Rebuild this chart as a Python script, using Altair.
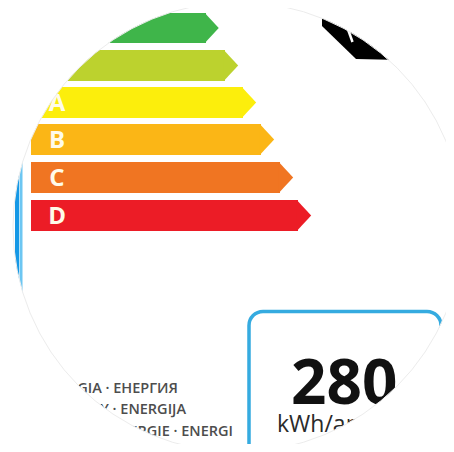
import altair as alt
import pandas as pd

# ---- data (image pixel coordinates) ----
classes = ["A++", "A+", "A", "B", "C", "D"]
bar_top = [13, 50, 87, 124, 162, 200]
bar_bottom = [43, 81, 118, 155, 193, 231]
bar_end = [206, 225, 243, 261, 280, 298]
bar_colors = ["#3fb54a", "#bcd22e", "#fcee0c", "#fbb616", "#f07522", "#ec1c26"]
bar_start = 31

footer_lines = ["ΕΝΕΡΓΕΙΑ · ENERGIA · ЕНЕРГИЯ", "ENERGY · ENERGIJA", "ENERGIA · ENERGIE · ENERGI"]
footer_right = [178, 186, 233]
footer_y = [389, 410, 432]

value_text = ["280"]
unit_text = ["kWh/annum"]

black_x = [322, 356, 400]
black_y = [26, 59, 60]

circle_cx, circle_cy, circle_r = 238, 227, 225
mask_width = 420

W, H = 438, 436
xs = alt.Scale(domain=[8, 446], nice=False, zero=False)
ys = alt.Scale(domain=[8, 444], reverse=True, nice=False, zero=False)


def X(f):
    return alt.X(f, type="quantitative", scale=xs, axis=None)


def Y(f):
    return alt.Y(f, type="quantitative", scale=ys, axis=None)


bars = pd.DataFrame({
    "cls": classes, "x0": [bar_start] * len(classes), "x1": bar_end,
    "y0": bar_top, "y1": bar_bottom,
})
bars["yc"] = (bars["y0"] + bars["y1"]) / 2
bars["size"] = (bars["y1"] - bars["y0"]) ** 2

col = alt.Color("cls:N", scale=alt.Scale(domain=classes, range=bar_colors), legend=None)

body = alt.Chart(bars).mark_rect().encode(
    x=X("x0"), x2="x1", y=Y("y0"), y2="y1", color=col)

tip = alt.Chart(bars).mark_point(
    shape="M-0.08,-1 L0.85,0 L-0.08,1 Z", filled=True, opacity=1, strokeWidth=0
).encode(x=X("x1"), y=Y("yc"), color=col, size=alt.Size("size:Q", scale=None, legend=None))

letters = alt.Chart(bars).mark_text(
    font="Open Sans", fontWeight="bold", fontSize=24, color="#fffbea",
    align="center", baseline="middle", dy=1
).encode(x=alt.X("lx:Q", scale=xs, axis=None), y=Y("yc"), text="cls:N").transform_calculate(lx="57")

blue_dark = alt.Chart(pd.DataFrame({"x": [17], "y": [100], "y2": [360]})).mark_rule(
    color="#1598e6", strokeWidth=4).encode(x=X("x"), y=Y("y"), y2="y2")
blue_light = alt.Chart(pd.DataFrame({"x": [21], "y": [100], "y2": [360]})).mark_rule(
    color="#6cc6f2", strokeWidth=3).encode(x=X("x"), y=Y("y"), y2="y2")

box = alt.Chart(pd.DataFrame({"x": [249], "x2": [441], "y": [311.5], "y2": [500]})).mark_rect(
    fillOpacity=0, stroke="#35abe0", strokeWidth=3.5, cornerRadius=14
).encode(x=X("x"), x2="x2", y=Y("y"), y2="y2")

footer = alt.Chart(pd.DataFrame({"t": footer_lines, "x": footer_right, "y": footer_y})).mark_text(
    font="Open Sans", fontWeight=600, fontSize=14.5, color="#4d4d4d", align="right", baseline="middle"
).encode(x=X("x"), y=Y("y"), text="t:N")

value = alt.Chart(pd.DataFrame({"t": value_text, "x": [291], "y": [404]})).mark_text(
    font="Open Sans", fontWeight="bold", fontSize=62, color="#111111", align="left",
    baseline="alphabetic"
).encode(x=X("x"), y=Y("y"), text="t:N")

unit = alt.Chart(pd.DataFrame({"t": unit_text, "x": [277], "y": [432]})).mark_text(
    font="Open Sans", fontSize=23, color="#2a2a2a", align="left", baseline="alphabetic"
).encode(x=X("x"), y=Y("y"), text="t:N")

black = alt.Chart(pd.DataFrame({"x": black_x, "y": black_y})).mark_area(
    color="#000000", opacity=1
).encode(x=X("x"), y=Y("y"), y2=alt.datum(8))

notch = alt.Chart(pd.DataFrame({"x": [347.5], "x2": [352.5], "y": [28], "y2": [42]})).mark_rule(
    color="white", strokeWidth=2.5).encode(x=X("x"), x2="x2", y=Y("y"), y2="y2")

center = pd.DataFrame({"x": [circle_cx], "y": [circle_cy]})
# white ring outside the circle (a thick stroked circle symbol)
mask = alt.Chart(center).mark_point(
    shape="circle", filled=False, opacity=1, stroke="white", strokeWidth=mask_width,
    size=(2 * circle_r + mask_width) ** 2
).encode(x=X("x"), y=Y("y"))

outline = alt.Chart(center).mark_point(
    shape="circle", filled=False, size=(2 * circle_r) ** 2, stroke="#ececec", strokeWidth=1, opacity=1
).encode(x=X("x"), y=Y("y"))

chart = alt.layer(
    body, tip, letters, blue_dark, blue_light, box, footer, value, unit, black, notch, mask, outline
).properties(
    width=W, height=H, padding=0,
    autosize=alt.AutoSizeParams(type="none"),
    background="white",
).configure_view(stroke=None)

chart.save("out.html", embed_options={"renderer": "svg", "actions": False})
